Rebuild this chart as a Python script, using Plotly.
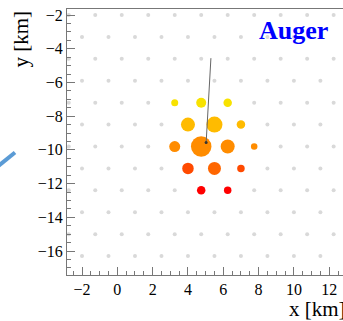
import plotly.graph_objects as go

# Background detector grid (hexagonal lattice, 1.5 km spacing)
grid_row_y = [-2.0, -3.3, -4.6, -5.9, -7.2, -8.5, -9.8, -11.1, -12.4, -13.7, -15.0, -16.3]
grid_even_x = [-2.75, -1.25, 0.25, 1.75, 3.25, 4.75, 6.25, 7.75, 9.25, 10.75, 12.25]
grid_odd_x = [-2.0, -0.5, 1.0, 2.5, 4.0, 5.5, 7.0, 8.5, 10.0, 11.5, 13.0]

# Triggered stations
st_x = [3.25, 4.75, 6.25, 4.0, 5.5, 7.0, 3.25, 4.75, 6.25, 7.75, 4.0, 5.5, 7.0, 4.75, 6.25]
st_y = [-7.2, -7.2, -7.2, -8.5, -8.5, -8.5, -9.8, -9.8, -9.8, -9.8, -11.1, -11.1, -11.1, -12.4, -12.4]
st_size = [7, 10, 8.5, 14, 16, 8.5, 11, 20.5, 14, 6.5, 11.5, 13, 7.5, 8.5, 7.5]
st_color = ["#f8e200", "#f8e200", "#f8e200",
            "#ffbb00", "#ffbb00", "#ffbb00",
            "#ff8c00", "#ff8c00", "#ff8c00", "#ff8c00",
            "#ff4a00", "#ff6600", "#ff4a00",
            "#ff0000", "#ff0000"]

# Shower axis projection and core
axis_x = [5.30, 5.03]
axis_y = [-4.56, -9.56]
core_x = [5.03]
core_y = [-9.56]

x_ticks = [-2, 0, 2, 4, 6, 8, 10, 12]
y_ticks = [-2, -4, -6, -8, -10, -12, -14, -16]

gx, gy = [], []
for i, yv in enumerate(grid_row_y):
    row = grid_even_x if i % 2 == 0 else grid_odd_x
    for xv in row:
        gx.append(xv)
        gy.append(yv)

fig = go.Figure()
fig.add_trace(go.Scatter(x=gx, y=gy, mode="markers",
                         marker=dict(size=4, color="#d9d9d9", line=dict(width=0)),
                         hoverinfo="skip", showlegend=False))
fig.add_trace(go.Scatter(x=st_x, y=st_y, mode="markers",
                         marker=dict(size=st_size, color=st_color, line=dict(width=0), opacity=1),
                         showlegend=False))
fig.add_trace(go.Scatter(x=axis_x, y=axis_y, mode="lines",
                         line=dict(color="#666666", width=1), showlegend=False))
fig.add_trace(go.Scatter(x=core_x, y=core_y, mode="markers",
                         marker=dict(size=3, color="#333333"), showlegend=False))

serif = "Liberation Serif, Times New Roman, serif"
axis_common = dict(
    showgrid=False, zeroline=False, showline=True, linecolor="#777777", linewidth=1,
    ticks="inside", ticklen=8, tickwidth=1, tickcolor="#777777", automargin=False,
    tickfont=dict(family=serif, size=16, color="#000000"),
)

fig.update_xaxes(range=[-2.85, 12.78], tickvals=x_ticks, mirror=True,
                 minor=dict(dtick=0.5, ticks="inside", ticklen=4, tickcolor="#777777"),
                 **axis_common)
fig.update_yaxes(range=[-17.42, -1.644], tickvals=y_ticks,
                 minor=dict(dtick=0.5, ticks="inside", ticklen=4, tickcolor="#777777"),
                 **axis_common)

fig.update_layout(
    width=343, height=321,
    margin=dict(l=67, r=0, t=9, b=46),
    paper_bgcolor="white", plot_bgcolor="white",
    font=dict(family=serif),
    annotations=[
        dict(text="<b>Auger</b>", xref="paper", yref="paper", x=0.821, y=0.921,
             xanchor="center", yanchor="middle", showarrow=False,
             font=dict(family=serif, size=26, color="#0000ff")),
        dict(text="y [km]", xref="paper", yref="paper", x=(20 - 67) / 276, y=1.0,
             xanchor="center", yanchor="top", textangle=-90, showarrow=False,
             font=dict(family=serif, size=21, color="#000000")),
        dict(text="x [km]", xref="paper", yref="paper", x=(287 - 67) / 276, y=(275 - 309) / 266,
             xanchor="left", yanchor="middle", showarrow=False,
             font=dict(family=serif, size=21, color="#000000")),
    ],
    shapes=[
        dict(type="line", xref="paper", yref="paper",
             x0=(-3 - 67) / 276, y0=(275 - 167) / 266,
             x1=(15 - 67) / 276, y1=(275 - 152.5) / 266,
             line=dict(color="#5b9bd5", width=4)),
    ],
)

fig.write_html("out.html", config={"displayModeBar": False},
               post_script="document.body.style.margin='0';document.body.style.padding='0';")
